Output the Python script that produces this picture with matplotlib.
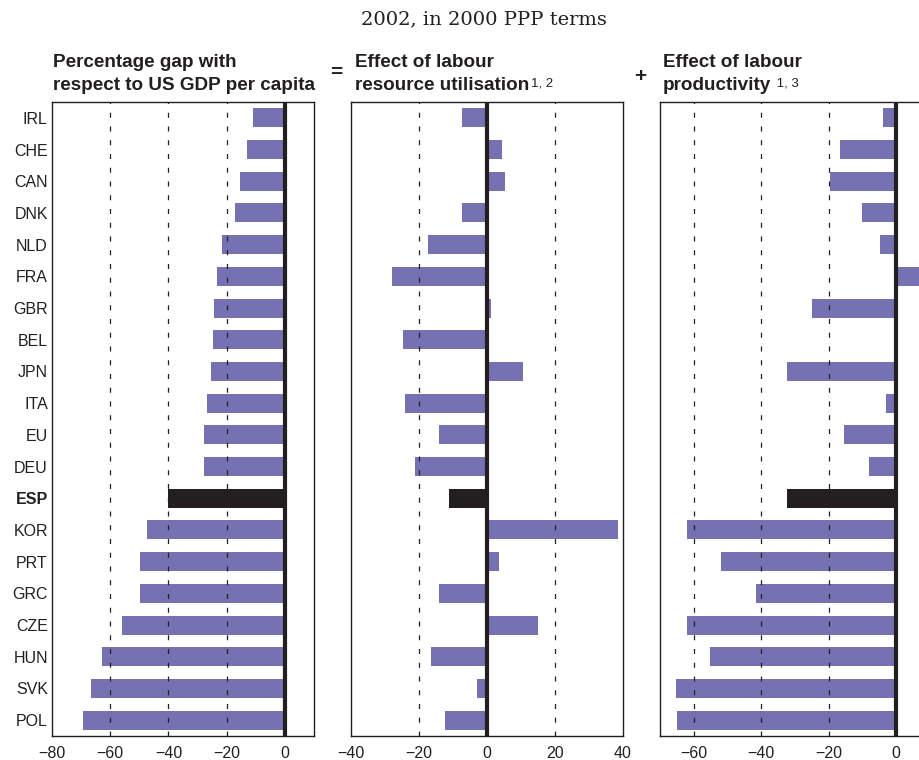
import matplotlib.pyplot as plt
import numpy as np

plt.rcParams['font.family'] = ['Liberation Sans', 'DejaVu Sans']

countries = ["IRL", "CHE", "CAN", "DNK", "NLD", "FRA", "GBR", "BEL", "JPN", "ITA",
             "EU", "DEU", "ESP", "KOR", "PRT", "GRC", "CZE", "HUN", "SVK", "POL"]

# Percentage gap with respect to US GDP per capita
gdpGap = [-11.1, -13.1, -15.3, -17.3, -21.7, -23.2, -24.3, -24.6, -25.4, -26.7,
          -27.8, -27.8, -40.1, -47.5, -49.9, -49.9, -56.1, -62.7, -66.5, -69.3]

# Effect of labour resource utilisation
utilisation = [-7.3, 4.5, 5.3, -7.5, -17.5, -28.0, 1.2, -24.6, 10.6, -24.2,
               -14.2, -21.2, -11.3, 38.4, 3.4, -14.0, 15.1, -16.5, -2.9, -12.4]

# Effect of labour productivity
productivity = [-4.0, -16.8, -19.5, -10.1, -4.8, 7.5, -25.0, 0.0, -32.3, -2.9,
                -15.4, -8.0, -32.4, -62.0, -51.8, -41.7, -62.0, -55.3, -65.4, -65.0]

highlight = "ESP"
panelLimits = [(-80, 10), (-40, 40), (-70, 10)]
panelTicks = [[-80, -60, -40, -20, 0], [-40, -20, 0, 20, 40], [-60, -40, -20, 0]]
panelGrid = [[-60, -40, -20], [-20, 20], [-60, -40, -20]]

barColor = '#7571b3'
darkColor = '#231f20'

W, H = 919, 760
fig = plt.figure(figsize=(W / 100, H / 100), dpi=100)

# axes boxes in pixels: left, right
boxes = [(52, 314), (351, 623), (660, 930)]
top, bottom = 102, 736

y = np.arange(len(countries))
colors = [darkColor if c == highlight else barColor for c in countries]

for i, values in enumerate([gdpGap, utilisation, productivity]):
    left, right = boxes[i]
    ax = fig.add_axes([left / W, (H - bottom) / H, (right - left) / W, (bottom - top) / H])
    ax.barh(y, values, height=0.6, color=colors, zorder=2)
    for g in panelGrid[i]:
        ax.axvline(g, color=darkColor, linewidth=0.9, linestyle=(0, (4, 7)), zorder=3)
    ax.axvline(0, color=darkColor, linewidth=3, zorder=4)
    ax.set_xlim(*panelLimits[i])
    ax.set_ylim(len(countries) - 0.5, -0.5)
    ax.set_xticks(panelTicks[i])
    ax.tick_params(axis='x', length=0, pad=7, labelsize=11.5, colors=darkColor)
    if i == 0:
        ax.set_yticks(y)
        ax.set_yticklabels(countries)
        ax.tick_params(axis='y', length=0, pad=3, labelsize=11.5, colors=darkColor)
        for lbl in ax.get_yticklabels():
            if lbl.get_text() == highlight:
                lbl.set_fontweight('bold')
    else:
        ax.set_yticks([])
    for s in ax.spines.values():
        s.set_color(darkColor)
        s.set_linewidth(1.0)

# subtitle
fig.text(484 / W, 1 - 19 / H, "2002, in 2000 PPP terms", family='DejaVu Serif',
         fontsize=14, ha='center', va='center', color=darkColor)

# panel headings
headFont = dict(fontsize=13.6, fontweight='bold', color=darkColor, va='baseline', ha='left')
fig.text(53 / W, 1 - 67 / H, "Percentage gap with", **headFont)
fig.text(53 / W, 1 - 90 / H, "respect to US GDP per capita", **headFont)
fig.text(355 / W, 1 - 67 / H, "Effect of labour", **headFont)
t2 = fig.text(355 / W, 1 - 90 / H, "resource utilisation", **headFont)
fig.text(663 / W, 1 - 67 / H, "Effect of labour", **headFont)
t3 = fig.text(663 / W, 1 - 90 / H, "productivity", **headFont)

# footnote references after the headings
for txt, note in [(t2, "1, 2"), (t3, " 1, 3")]:
    plt.annotate(note, xy=(1, 1), xycoords=txt, xytext=(1, 0), textcoords='offset points',
                 ha='left', va='top', fontsize=9.5, color=darkColor)

# operators between the panels
fig.text(336 / W, 1 - 73 / H, "=", fontsize=15, fontweight='bold', ha='center', va='center',
         color=darkColor)
fig.text(640 / W, 1 - 76 / H, "+", fontsize=15, fontweight='bold', ha='center', va='center',
         color=darkColor)

plt.savefig('out.png', dpi=100)
